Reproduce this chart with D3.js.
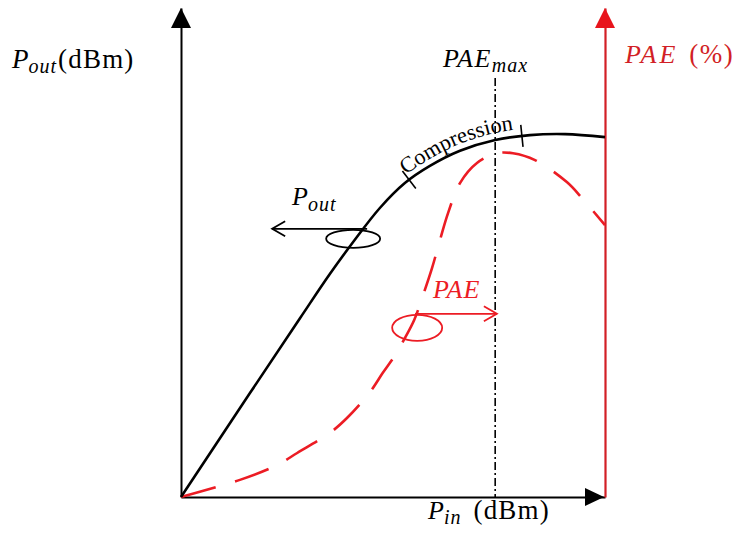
<!DOCTYPE html>
<html><head><meta charset="utf-8">
<script src="https://cdn.jsdelivr.net/npm/d3@7"></script>
<style>body{margin:0;background:#fff}svg{display:block}text{font-family:"Liberation Serif","Times New Roman",serif}</style>
</head><body>
<svg id="chart" width="735" height="535"></svg>
<script>
// ---- data (schematic units: Pin 0..100, Pout 0..100, PAE 0..100) ----
const pinPout    = [0, 16.3, 28.1, 35.1, 41.0, 46.9, 52.8, 58.7, 65.8, 74.1, 82.3, 90.6, 100];
const poutValues = [0, 21.3, 36.6, 45.6, 52.6, 59.1, 64.2, 67.7, 70.8, 73.0, 74.0, 74.2, 73.6];
const pinPae     = [0, 13.9, 22.6, 27.4, 35.1, 39.2, 44.6, 47.6, 50.5, 52.8, 55.0, 57.1, 59.2, 61.1, 63.0, 65.8, 69.8, 74.5, 78.3, 83.5, 91.0, 94.6, 100];
const paeValues  = [0, 3.5, 6.5, 9.0, 13.1, 16.2, 21.5, 25.4, 29.0, 32.5, 36.2, 41.3, 46.8, 52.6, 58.1, 64.2, 68.3, 70.3, 70.3, 68.9, 64.4, 61.1, 55.6];
const paeMaxPin = 74.1;
const paeMaxTop = 85.7;
const compressionPins = [53.8, 80.4];
const poutMarker = {pin: 40.6, value: 52.8, arrowFrom: 43.9, arrowTo: 21.5};
const paeMarker  = {pin: 55.7, value: 34.6, arrowFrom: 55.2, arrowTo: 74.5};

const svg = d3.select("#chart");
const x = d3.scaleLinear().domain([0, 100]).range([181, 605]);
const yPout = d3.scaleLinear().domain([0, 100]).range([497, 8]);
const yPae = d3.scaleLinear().domain([0, 100]).range([497, 8]);

const BLACK = "#000", RED_AXIS = "#d21f26", RED = "#ec1c24";
const SERIF = "Liberation Serif";

// ---- axes ----
const gB = svg.append("g").attr("transform", `translate(0,${yPout(0)})`)
  .call(d3.axisBottom(x).tickValues([]).tickSizeOuter(0));
gB.select(".domain").attr("stroke", BLACK).attr("stroke-width", 2);
const gL = svg.append("g").attr("transform", `translate(${x(0)},0)`)
  .call(d3.axisLeft(yPout).tickValues([]).tickSizeOuter(0));
gL.select(".domain").attr("stroke", BLACK).attr("stroke-width", 2);
const gR = svg.append("g").attr("transform", `translate(${x(100)},0)`)
  .call(d3.axisRight(yPae).tickValues([]).tickSizeOuter(0));
gR.select(".domain").attr("stroke", RED_AXIS).attr("stroke-width", 2.2);

// arrowheads
const yTop = yPout(100);
svg.append("path").attr("d", `M${x(0)},${yTop} L${x(0)-10},${yTop+20} L${x(0)+10},${yTop+20} Z`).attr("fill", BLACK);
svg.append("path").attr("d", `M${x(100)},${yTop} L${x(100)-10},${yTop+20} L${x(100)+10},${yTop+20} Z`).attr("fill", "#e8141c");
svg.append("path").attr("d", `M${x(100)-1},${yPout(0)} L${x(100)-20},${yPout(0)-9} L${x(100)-20},${yPout(0)+9} Z`).attr("fill", BLACK);

// ---- PAEmax dash-dot line ----
svg.append("line")
  .attr("x1", x(paeMaxPin)).attr("x2", x(paeMaxPin))
  .attr("y1", yPout(paeMaxTop)).attr("y2", yPout(0))
  .attr("stroke", BLACK).attr("stroke-width", 1.6)
  .attr("stroke-dasharray", "8,3,2,3");

// ---- curves ----
const poutData = pinPout.map((p, i) => [p, poutValues[i]]);
const paeData = pinPae.map((p, i) => [p, paeValues[i]]);
const poutLine = d3.line().x(d => x(d[0])).y(d => yPout(d[1])).curve(d3.curveCatmullRom.alpha(0.5));
const paeLine = d3.line().x(d => x(d[0])).y(d => yPae(d[1])).curve(d3.curveCatmullRom.alpha(0.5));

svg.append("path").attr("d", paeLine(paeData))
  .attr("fill", "none").attr("stroke", RED).attr("stroke-width", 2.6)
  .attr("stroke-dasharray", "36,20");
const poutPath = svg.append("path").attr("d", poutLine(poutData))
  .attr("fill", "none").attr("stroke", BLACK).attr("stroke-width", 2.6);

function pointAtX(pathNode, px) {
  const L = pathNode.getTotalLength();
  let lo = 0, hi = L;
  for (let k = 0; k < 40; k++) {
    const mid = (lo + hi) / 2;
    if (pathNode.getPointAtLength(mid).x < px) lo = mid; else hi = mid;
  }
  return {len: lo, pt: pathNode.getPointAtLength(lo)};
}

// compression ticks
compressionPins.forEach(p => {
  const node = poutPath.node();
  const {len, pt} = pointAtX(node, x(p));
  const a = node.getPointAtLength(Math.max(0, len - 2));
  const b = node.getPointAtLength(len + 2);
  let tx = b.x - a.x, ty = b.y - a.y;
  const n = Math.hypot(tx, ty); tx /= n; ty /= n;
  const nx = -ty, ny = tx, h = 11;
  svg.append("line")
    .attr("x1", pt.x - nx * h).attr("y1", pt.y - ny * h)
    .attr("x2", pt.x + nx * h).attr("y2", pt.y + ny * h)
    .attr("stroke", BLACK).attr("stroke-width", 1.6);
});

// Compression label along an offset copy of the curve
const offsetLine = d3.line().x(d => x(d[0])).y(d => yPout(d[1]) - 7).curve(d3.curveCatmullRom.alpha(0.5));
svg.append("defs").append("path").attr("id", "compPath").attr("d", offsetLine(poutData));
const compStart = pointAtX(document.getElementById("compPath"), x(compressionPins[0]) - 3).len;
svg.append("text")
  .attr("font-family", SERIF).attr("font-size", 22).attr("fill", BLACK)
  .append("textPath").attr("href", "#compPath")
  .attr("startOffset", compStart)
  .attr("textLength", 118).attr("lengthAdjust", "spacingAndGlyphs")
  .text("Compression");

// ---- markers (ellipse + arrow) ----
function marker(m, color, yScale, rx, ry) {
  const cx = x(m.pin), cy = yScale(m.value);
  svg.append("ellipse").attr("cx", cx).attr("cy", cy).attr("rx", rx).attr("ry", ry)
    .attr("fill", "none").attr("stroke", color).attr("stroke-width", 1.8);
  const ay = cy - ry - 1;
  const x1 = x(m.arrowFrom), x2 = x(m.arrowTo);
  svg.append("line").attr("x1", x1).attr("x2", x2).attr("y1", ay).attr("y2", ay)
    .attr("stroke", color).attr("stroke-width", 1.8);
  const dir = Math.sign(x2 - x1);
  svg.append("path")
    .attr("d", `M${x2 - dir * 13},${ay - 7.5} L${x2},${ay} L${x2 - dir * 13},${ay + 7.5}`)
    .attr("fill", "none").attr("stroke", color).attr("stroke-width", 1.8);
}
marker(poutMarker, BLACK, yPout, 27, 9);
marker(paeMarker, RED, yPae, 25, 13);

// ---- text labels ----
function label(px, py, parts, color) {
  const t = svg.append("text").attr("x", px).attr("y", py)
    .attr("font-family", SERIF).attr("fill", color);
  parts.forEach(p => {
    const s = t.append("tspan").text(p.t)
      .attr("font-size", p.size).attr("font-style", p.italic ? "italic" : "normal");
    if (p.dy) s.attr("dy", p.dy);
    if (p.dx) s.attr("dx", p.dx);
    if (p.ls) s.attr("letter-spacing", p.ls);
  });
  return t;
}
label(12, 68, [
  {t: "P", size: 27, italic: true},
  {t: "out", size: 20, italic: true, dy: 5, ls: 1},
  {t: "(dBm)", size: 27, dy: -5, dx: 1, ls: 1.2}
], BLACK);
label(443, 67, [
  {t: "PAE", size: 26, italic: true, ls: 1.5},
  {t: "max", size: 20, italic: true, dy: 5, ls: 1}
], BLACK);
label(625, 63, [
  {t: "PAE", size: 26, italic: true, ls: 3},
  {t: "(%)", size: 27, dx: 11, ls: 1.5}
], RED_AXIS);
label(428, 519, [
  {t: "P", size: 26, italic: true},
  {t: "in", size: 20, italic: true, dy: 5, ls: 1},
  {t: "(dBm)", size: 27, dy: -5, dx: 12, ls: 1.2}
], BLACK);
label(292, 205, [
  {t: "P", size: 26, italic: true},
  {t: "out", size: 20, italic: true, dy: 6, ls: 1}
], BLACK);
label(433, 298, [
  {t: "PAE", size: 26, italic: true, ls: 1}
], RED);
</script>
</body></html>
